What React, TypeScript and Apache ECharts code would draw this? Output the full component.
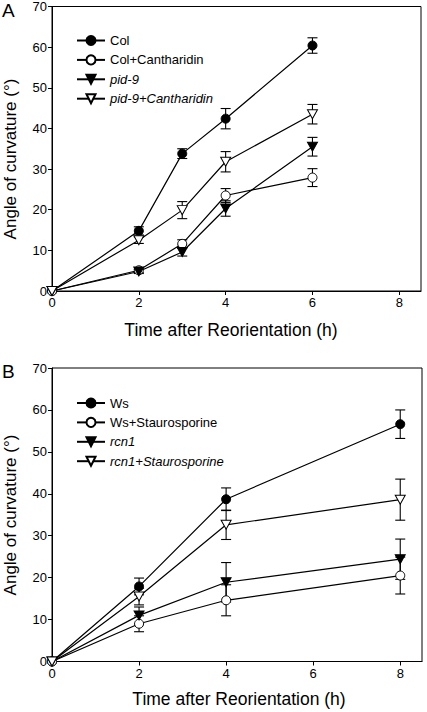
import React, { useEffect, useRef } from "react";
import * as echarts from "echarts";

// Panel A
const timesA = [0, 2, 3, 4, 6];
const colMean = [0, 14.8, 33.8, 42.4, 60.4];
const colErr = [0, 1.0, 1.2, 2.5, 1.9];
const colCanMean = [0, 5.1, 11.6, 23.5, 27.9];
const colCanErr = [0, 0.6, 1.0, 1.7, 2.2];
const pidMean = [0, 4.8, 9.6, 20.3, 35.5];
const pidErr = [0, 0.5, 1.0, 1.9, 2.3];
const pidCanMean = [0, 12.5, 19.9, 31.8, 43.5];
const pidCanErr = [0, 0.8, 2.1, 2.5, 2.4];

// Panel B
const timesB = [0, 2, 4, 8];
const wsMean = [0, 17.9, 38.7, 56.6];
const wsErr = [0, 2.0, 2.7, 3.4];
const wsStauMean = [0, 9.0, 14.6, 20.5];
const wsStauErr = [0, 1.9, 3.7, 4.4];
const rcnMean = [0, 11.0, 18.9, 24.4];
const rcnErr = [0, 2.0, 4.7, 4.8];
const rcnStauMean = [0, 15.5, 32.6, 38.6];
const rcnStauErr = [0, 2.0, 3.5, 4.9];

const xTicks = [0, 2, 4, 6, 8];
const yAxisTitle = "Angle of curvature (°)";
const xAxisTitle = "Time after Reorientation (h)";

const FONT = "'Liberation Sans', Arial, Helvetica, sans-serif";
const TRI = "path://M0,0L10,0L5,9Z";

type Marker = "filled" | "open" | "ftri" | "otri";

function lineSeries(name: string, xs: number[], ys: number[], marker: Marker, idx: number) {
  const isTri = marker === "ftri" || marker === "otri";
  const filled = marker === "filled" || marker === "ftri";
  return {
    type: "line",
    name,
    xAxisIndex: idx,
    yAxisIndex: idx,
    data: xs.map((x, i) => [x, ys[i]]),
    symbol: isTri ? TRI : "circle",
    symbolSize: isTri ? [10, 9] : 9,
    showAllSymbol: true,
    z: 3,
    lineStyle: { color: "#000", width: 1.2 },
    itemStyle: {
      color: filled ? "#000" : "#fff",
      borderColor: "#000",
      borderWidth: 1,
      opacity: 1,
    },
    emphasis: { disabled: true },
  };
}

function errSeries(xs: number[], means: number[], errs: number[], idx: number) {
  const data = xs
    .map((x, i) => [x, means[i] - errs[i], means[i] + errs[i]])
    .filter((d) => d[2] > d[1]);
  return {
    type: "custom",
    xAxisIndex: idx,
    yAxisIndex: idx,
    z: 1,
    silent: true,
    data,
    encode: { x: 0, y: [1, 2] },
    renderItem: (_params: any, api: any) => {
      const lo = api.coord([api.value(0), api.value(1)]);
      const hi = api.coord([api.value(0), api.value(2)]);
      const w = 5;
      const style = { stroke: "#000", lineWidth: 1.1 };
      return {
        type: "group",
        children: [
          { type: "line", shape: { x1: lo[0], y1: lo[1], x2: hi[0], y2: hi[1] }, style },
          { type: "line", shape: { x1: lo[0] - w, y1: lo[1], x2: lo[0] + w, y2: lo[1] }, style },
          { type: "line", shape: { x1: hi[0] - w, y1: hi[1], x2: hi[0] + w, y2: hi[1] }, style },
        ],
      };
    },
  };
}

function xAxis(idx: number) {
  return {
    type: "value",
    gridIndex: idx,
    min: 0,
    max: 8.5,
    interval: 2,
    axisLine: { show: true, lineStyle: { color: "#000", width: 1 } },
    axisTick: { show: true, inside: false, length: 4, lineStyle: { color: "#000" }, customValues: xTicks },
    axisLabel: { color: "#000", fontSize: 13, fontFamily: FONT, margin: 5, customValues: xTicks },
    splitLine: { show: false },
  };
}

function yAxis(idx: number) {
  return {
    type: "value",
    gridIndex: idx,
    min: 0,
    max: 70,
    interval: 10,
    axisLine: { show: true, lineStyle: { color: "#000", width: 1 } },
    axisTick: { show: true, inside: false, length: 4, lineStyle: { color: "#000" } },
    axisLabel: { color: "#000", fontSize: 13, fontFamily: FONT, margin: 5 },
    splitLine: { show: false },
  };
}

function legend(names: string[], italic: boolean[], top: number, left: number) {
  return {
    orient: "vertical",
    left,
    top,
    itemWidth: 28,
    itemHeight: 11.3,
    itemGap: 6.4,
    selectedMode: false,
    textStyle: { fontSize: 13, color: "#000", fontFamily: FONT },
    data: names.map((n, i) => ({ name: n, textStyle: { fontStyle: italic[i] ? "italic" : "normal" } })),
  };
}

function text(t: string, x: number, y: number, size: number, rot = 0, align = "center", vAlign = "middle") {
  return {
    type: "text",
    x,
    y,
    rotation: rot,
    silent: true,
    style: {
      text: t,
      fill: "#000",
      fontSize: size,
      fontFamily: FONT,
      align,
      textAlign: align,
      verticalAlign: vAlign,
      textVerticalAlign: vAlign,
    },
  };
}

export default function App() {
  const ref = useRef<HTMLDivElement>(null);
  useEffect(() => {
    if (!ref.current) return;
    const chart = echarts.init(ref.current, undefined, { renderer: "svg" });
    const option: any = {
      animation: false,
      backgroundColor: "#fff",
      grid: [
        { left: 52, right: 6, top: 6.5, height: 284.5, show: true, borderColor: "#000", borderWidth: 1, backgroundColor: "transparent" },
        { left: 52, right: 5, top: 368, height: 293.5, show: true, borderColor: "#000", borderWidth: 1, backgroundColor: "transparent" },
      ],
      xAxis: [xAxis(0), xAxis(1)],
      yAxis: [yAxis(0), yAxis(1)],
      legend: [
        legend(["Col", "Col+Cantharidin", "pid-9", "pid-9+Cantharidin"], [false, false, true, true], 29, 71),
        legend(["Ws", "Ws+Staurosporine", "rcn1", "rcn1+Staurosporine"], [false, false, true, true], 391.5, 71),
      ],
      graphic: [
        text("A", 2, 1, 19, 0, "left", "top"),
        text("B", 2, 362, 19, 0, "left", "top"),
        text(yAxisTitle, 10, 159, 17, Math.PI / 2),
        text(yAxisTitle, 10, 515, 17, Math.PI / 2),
        text(xAxisTitle, 231, 330, 17.5),
        text(xAxisTitle, 239, 699, 17.5),
      ],
      series: [
        errSeries(timesA, colMean, colErr, 0),
        errSeries(timesA, colCanMean, colCanErr, 0),
        errSeries(timesA, pidMean, pidErr, 0),
        errSeries(timesA, pidCanMean, pidCanErr, 0),
        lineSeries("Col", timesA, colMean, "filled", 0),
        lineSeries("Col+Cantharidin", timesA, colCanMean, "open", 0),
        lineSeries("pid-9", timesA, pidMean, "ftri", 0),
        lineSeries("pid-9+Cantharidin", timesA, pidCanMean, "otri", 0),
        errSeries(timesB, wsMean, wsErr, 1),
        errSeries(timesB, wsStauMean, wsStauErr, 1),
        errSeries(timesB, rcnMean, rcnErr, 1),
        errSeries(timesB, rcnStauMean, rcnStauErr, 1),
        lineSeries("Ws", timesB, wsMean, "filled", 1),
        lineSeries("Ws+Staurosporine", timesB, wsStauMean, "open", 1),
        lineSeries("rcn1", timesB, rcnMean, "ftri", 1),
        lineSeries("rcn1+Staurosporine", timesB, rcnStauMean, "otri", 1),
      ],
    };
    chart.setOption(option);
    return () => chart.dispose();
  }, []);
  return (
    <div
      ref={ref}
      style={{ position: "absolute", left: 0, top: 0, width: 427, height: 712, background: "#fff" }}
    />
  );
}
